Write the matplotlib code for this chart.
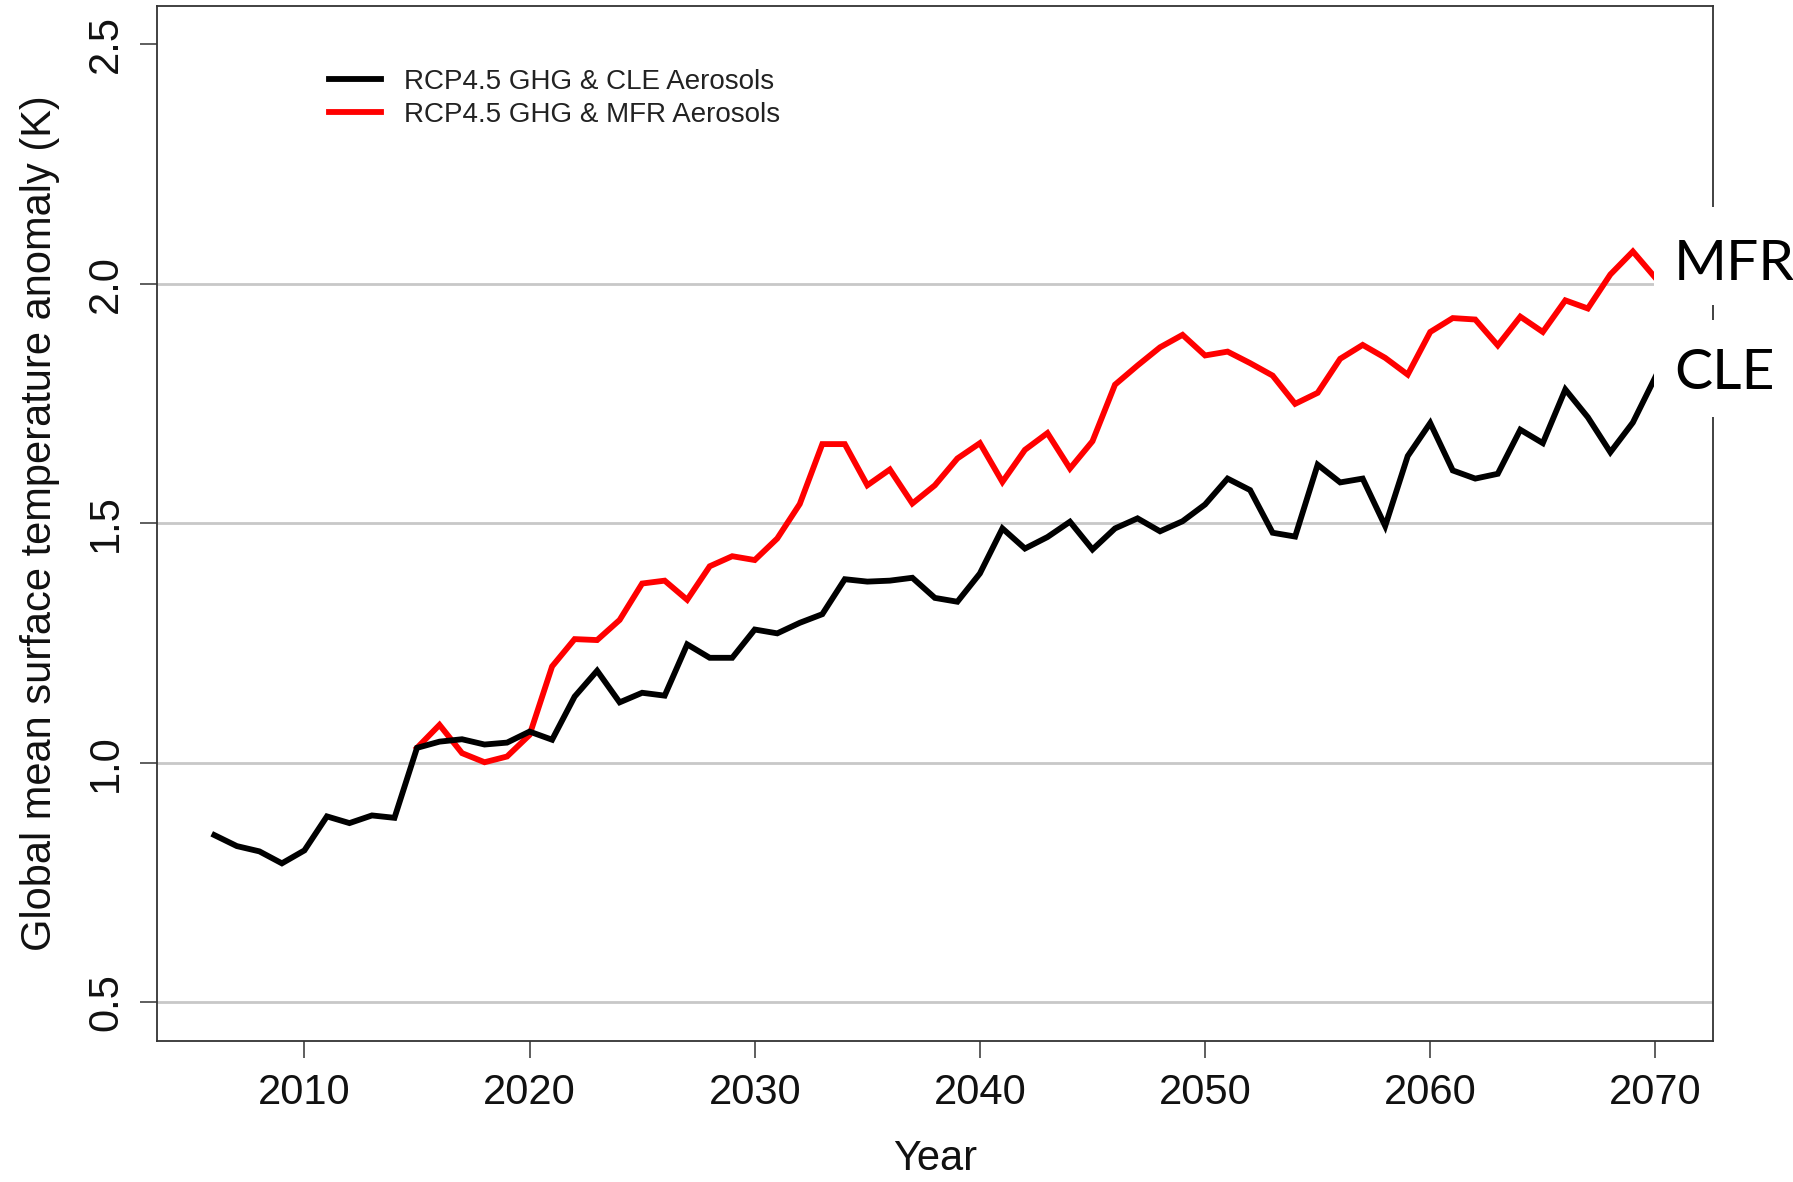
import numpy as np
import matplotlib
matplotlib.use("Agg")
import matplotlib.pyplot as plt
from matplotlib.patches import Rectangle

plt.rcParams["font.family"] = ["Liberation Sans", "DejaVu Sans"]

# Global mean surface temperature anomaly (K)
years_cle = list(range(2006, 2071))
cle = [
    0.849, 0.826, 0.815, 0.790, 0.817, 0.888, 0.874, 0.890, 0.885, 1.031,
    1.044, 1.049, 1.038, 1.042, 1.065, 1.048, 1.138, 1.192, 1.126, 1.146,
    1.140, 1.247, 1.219, 1.219, 1.278, 1.270, 1.292, 1.310, 1.383, 1.378,
    1.380, 1.386, 1.344, 1.336, 1.395, 1.489, 1.447, 1.471, 1.503, 1.445,
    1.489, 1.510, 1.483, 1.504, 1.539, 1.593, 1.569, 1.480, 1.472, 1.622,
    1.585, 1.593, 1.494, 1.640, 1.709, 1.610, 1.593, 1.603, 1.695, 1.667,
    1.779, 1.721, 1.648, 1.710, 1.805,
]
years_mfr = list(range(2015, 2071))
mfr = [
    1.031, 1.079, 1.020, 1.001, 1.013, 1.058, 1.201, 1.258, 1.256, 1.298,
    1.374, 1.380, 1.340, 1.410, 1.431, 1.423, 1.468, 1.540, 1.665, 1.665,
    1.579, 1.612, 1.541, 1.579, 1.635, 1.667, 1.586, 1.653, 1.688, 1.614,
    1.671, 1.789, 1.829, 1.867, 1.893, 1.850, 1.858, 1.834, 1.808, 1.749,
    1.772, 1.843, 1.872, 1.845, 1.810, 1.899, 1.928, 1.925, 1.871, 1.931,
    1.899, 1.965, 1.948, 2.019, 2.067, 2.012,
]
labels = ["RCP4.5 GHG & CLE Aerosols", "RCP4.5 GHG & MFR Aerosols"]
grid_levels = [0.5, 1.0, 1.5, 2.0]
x_ticks = [2010, 2020, 2030, 2040, 2050, 2060, 2070]
y_ticks = [0.5, 1.0, 1.5, 2.0, 2.5]

fig = plt.figure(figsize=(17.93, 11.82), dpi=100)
ax = fig.add_axes([0.0874, 0.1196, 0.868, 0.8756])

for level in grid_levels:
    ax.axhline(level, color="#c8c8c8", lw=2.0, zorder=1)

red_line, = ax.plot(years_mfr, mfr, color="#ff0000", lw=4.2, zorder=2,
                    solid_joinstyle="miter")
black_line, = ax.plot(years_cle, cle, color="black", lw=4.2, zorder=3,
                      solid_joinstyle="miter")

ax.set_xlim(2003.44, 2072.56)
ax.set_ylim(0.42, 2.58)
ax.set_xticks(x_ticks)
ax.set_yticks(y_ticks)
ax.set_yticklabels([f"{v:.1f}" for v in y_ticks])
for lbl in ax.get_yticklabels():
    lbl.set_rotation(90)
    lbl.set_va("center")

for spine in ax.spines.values():
    spine.set_color("#333333")
    spine.set_linewidth(1.3)
ax.tick_params(axis="both", direction="out", length=12, width=1.1,
               color="#333333", labelsize=30, labelcolor="#111111")
ax.tick_params(axis="x", pad=11)
ax.tick_params(axis="y", pad=10)

ax.set_xlabel("Year", fontsize=30, labelpad=19, color="#111111")
ax.set_ylabel("Global mean surface temperature anomaly (K)", fontsize=30,
              labelpad=19, color="#111111")

ax.legend([black_line, red_line], labels, loc="upper left",
          bbox_to_anchor=(0.1107, 0.939), frameon=False, fontsize=20,
          borderpad=0, borderaxespad=0, handlelength=1.87,
          handletextpad=0.83, labelspacing=0.25, labelcolor="#222222")

# white label boxes covering the right-hand frame
for y0, y1 in [(0.742, 0.8249), (0.6472, 0.7293)]:
    fig.add_artist(Rectangle((0.9225, y0), 0.0775, y1 - y0,
                             transform=fig.transFigure, facecolor="white",
                             edgecolor="none", zorder=5))
fig.text(0.9335, 0.7635, "MFR", fontsize=41, family=["Lato", "DejaVu Sans"],
         va="baseline", ha="left", zorder=6)
fig.text(0.9335, 0.6705, "CLE", fontsize=41, family=["Lato", "DejaVu Sans"],
         va="baseline", ha="left", zorder=6)

fig.savefig("out.png", dpi=100)
